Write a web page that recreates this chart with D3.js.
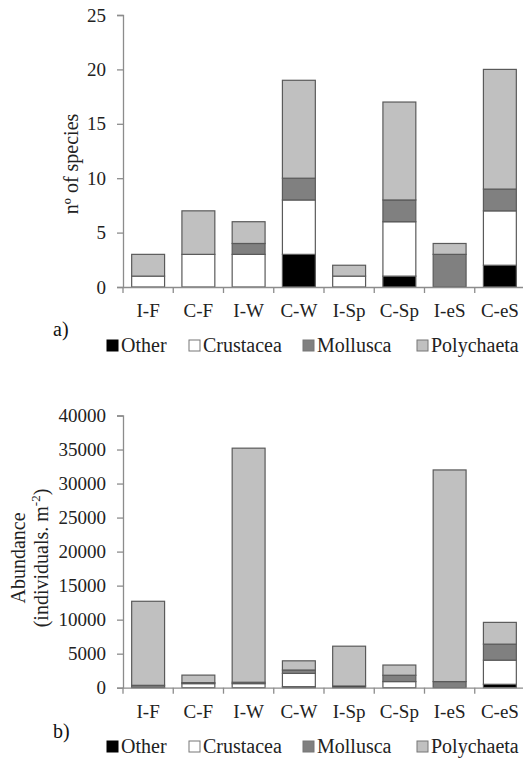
<!DOCTYPE html>
<html><head><meta charset="utf-8">
<script src="https://cdn.jsdelivr.net/npm/d3@7"></script>
<style>
html,body{margin:0;padding:0;background:#fff;}
svg{display:block;}
svg text{font-family:"Liberation Serif","Tinos","Times New Roman","DejaVu Serif",serif !important;}
</style></head>
<body><svg id="c" width="523" height="759"></svg>
<script>
const categories = ["I-F","C-F","I-W","C-W","I-Sp","C-Sp","I-eS","C-eS"];
const groups = ["Other","Crustacea","Mollusca","Polychaeta"];
const colors = ["#000000","#ffffff","#808080","#c0c0c0"];

// a) number of species
const speciesOther      = [0, 0, 0, 3, 0, 1, 0, 2];
const speciesCrustacea  = [1, 3, 3, 5, 1, 5, 0, 5];
const speciesMollusca   = [0, 0, 1, 2, 0, 2, 3, 2];
const speciesPolychaeta = [2, 4, 2, 9, 1, 9, 1, 11];
const speciesTicks = [0, 5, 10, 15, 20, 25];

// b) abundance (individuals m-2)
const abundOther      = [0,     0,    0,     150,  250,  0,    0,     500];
const abundCrustacea  = [50,    600,  600,   1950, 0,    900,  0,     3550];
const abundMollusca   = [300,   150,  200,   500,  0,    930,  900,   2350];
const abundPolychaeta = [12350, 1100, 34400, 1350, 5850, 1500, 31100, 3200];
const abundTicks = [0, 5000, 10000, 15000, 20000, 25000, 30000, 35000, 40000];

const svg = d3.select("#c");
const axisColor = "#8c8c8c";
const barStroke = "#5a5a5a";
const FONT = "Liberation Serif, Tinos, Times New Roman, DejaVu Serif, serif";

function panel(cfg) {
  const rows = categories.map((c, i) => {
    const r = {cat: c};
    cfg.series.forEach((s, k) => r[groups[k]] = s[i]);
    return r;
  });
  const stack = d3.stack().keys(groups)(rows);
  const x = d3.scaleBand().domain(categories).range([123, 525]).padding(0);
  const barW = x.bandwidth() * 0.655;
  const y = d3.scaleLinear().domain([0, cfg.max]).range([cfg.y0, cfg.y1]);
  const g = svg.append("g").attr("font-family", FONT);

  // y axis
  const ya = g.append("g").attr("transform", "translate(123,0)")
    .call(d3.axisLeft(y).tickValues(cfg.ticks).tickSize(6).tickPadding(11).tickFormat(d3.format("d")));
  ya.attr("font-family", FONT);
  ya.select(".domain").attr("stroke", axisColor).attr("stroke-width", 1.3);
  ya.selectAll(".tick line").attr("stroke", axisColor).attr("stroke-width", 1.3);
  ya.selectAll(".tick text").attr("font-size", 19).attr("fill", "#222");

  // bars
  g.selectAll("g.layer").data(stack).join("g").attr("class", "layer")
    .attr("fill", (d, i) => colors[i])
    .selectAll("rect").data(d => d.map((v, i) => ({v, cat: categories[i]})).filter(e => e.v[1] > e.v[0]))
    .join("rect")
    .attr("x", e => x(e.cat) + (x.bandwidth() - barW) / 2)
    .attr("width", barW)
    .attr("y", e => y(e.v[1]))
    .attr("height", e => y(e.v[0]) - y(e.v[1]))
    .attr("stroke", barStroke).attr("stroke-width", 1.2);

  // x axis
  const xa = g.append("g").attr("transform", `translate(0,${cfg.y0})`)
    .call(d3.axisBottom(x).tickSize(0).tickPadding(cfg.labPad));
  xa.attr("font-family", FONT);
  xa.select(".domain").attr("stroke", axisColor).attr("stroke-width", 1.3);
  xa.selectAll(".tick text").attr("font-size", 19).attr("fill", "#222");
  const bounds = categories.map(c => x(c)).concat([x(categories[categories.length - 1]) + x.bandwidth()]);
  xa.selectAll("line.bt").data(bounds).join("line").attr("class", "bt")
    .attr("x1", d => d).attr("x2", d => d).attr("y1", 0).attr("y2", 6)
    .attr("stroke", axisColor).attr("stroke-width", 1.3);

  // y title
  const tl = g.append("text").attr("transform", `translate(${cfg.titleX},${cfg.titleY}) rotate(-90)`)
    .attr("text-anchor", "middle").attr("font-size", 20).attr("fill", "#222");
  cfg.title.forEach((t, i) => {
    const ts = tl.append("tspan").attr("x", 0).attr("dy", i === 0 ? 0 : 23);
    if (Array.isArray(t)) {
      ts.text(t[0]);
      tl.append("tspan").attr("font-size", 13).attr("dy", -8).text(t[1]);
      tl.append("tspan").attr("dy", 8).text(t[2]);
    } else ts.text(t);
  });

  // panel letter
  g.append("text").attr("x", 53).attr("y", cfg.letterY).attr("font-size", 20).attr("fill", "#111").text(cfg.letter);

  // legend
  const legX = [107, 189, 303, 417];
  const lg = g.append("g").attr("transform", `translate(0,${cfg.legY})`);
  groups.forEach((gr, i) => {
    lg.append("rect").attr("x", legX[i]).attr("y", -12).attr("width", 11).attr("height", 11)
      .attr("fill", colors[i]).attr("stroke", i === 0 ? "#000" : "#777").attr("stroke-width", 1);
    lg.append("text").attr("x", legX[i] + 14).attr("y", 0).attr("font-size", 20).attr("fill", "#222").text(gr);
  });
}

panel({series: [speciesOther, speciesCrustacea, speciesMollusca, speciesPolychaeta],
  max: 25, ticks: speciesTicks, y0: 287, y1: 15, labPad: 17,
  title: ["nº of species"], titleX: 78, titleY: 164,
  letter: "a)", letterY: 336, legY: 352});

panel({series: [abundOther, abundCrustacea, abundMollusca, abundPolychaeta],
  max: 40000, ticks: abundTicks, y0: 687.7, y1: 415.5, labPad: 17,
  title: ["Abundance", ["(individuals. m", "-2", ")"]], titleX: 25, titleY: 558,
  letter: "b)", letterY: 738, legY: 753});
</script></body></html>
